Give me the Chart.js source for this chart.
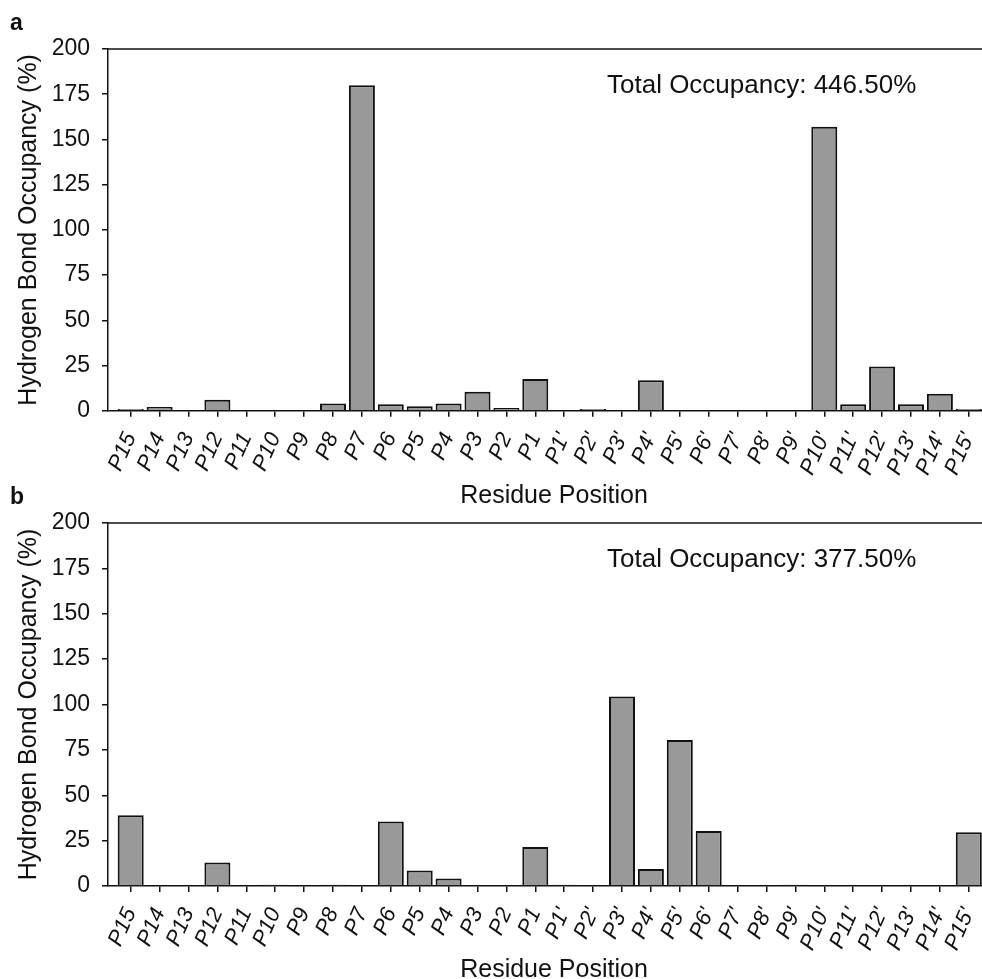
<!DOCTYPE html>
<html>
<head>
<meta charset="utf-8">
<script src="https://cdn.jsdelivr.net/npm/chart.js@4/dist/chart.umd.min.js"></script>
<style>
  html, body { margin: 0; padding: 0; background: #fff; overflow: hidden; width: 982px; height: 979px; position: relative; }
  canvas { display: block; position: absolute; left: 0; }
  #chart-a { top: 0; }
  #chart-b { top: 474px; }
</style>
</head>
<body>
<canvas id="chart-a" width="1000" height="520"></canvas>
<canvas id="chart-b" width="1000" height="520"></canvas>
<script>
// ── Data ─────────────────────────────────────────────────────────────────────

const RESIDUES = [
  'P15', 'P14', 'P13', 'P12', 'P11', 'P10', 'P9', 'P8', 'P7', 'P6', 'P5', 'P4', 'P3', 'P2', 'P1',
  "P1'", "P2'", "P3'", "P4'", "P5'", "P6'", "P7'", "P8'", "P9'", "P10'", "P11'", "P12'", "P13'", "P14'", "P15'",
];

// panel a
const OCC_A = [
  1, 2, 0, 6, 0, 0, 0, 4, 180, 3.5, 2.5, 4, 10.5, 1.5, 17.5,
  0, 1, 0, 16.8, 0, 0, 0, 0, 0, 157, 3.5, 24.4, 3.5, 9.4, 1,
];

// panel b
const OCC_B = [
  39, 0, 0, 13, 0, 0.7, 0, 0.7, 0, 35.5, 8.6, 4.2, 0, 0, 21.5,
  0.7, 0, 104.4, 9.4, 80.5, 30.3, 0, 0, 0.7, 0, 0, 0, 0, 0, 29.6,
];

const TOTAL_A = 'Total Occupancy: 446.50%';
const TOTAL_B = 'Total Occupancy: 377.50%';

const Y_TICKS = [0, 25, 50, 75, 100, 125, 150, 175, 200];

// ── Chart builder ────────────────────────────────────────────────────────────

const FONT = "'Liberation Sans', Arial, Helvetica, sans-serif";

function panel_plugin(letter, total) {
  return {
    id: 'panel_' + letter,
    afterDraw(chart) {
      const { ctx, chartArea } = chart;
      ctx.save();
      // top frame line
      ctx.strokeStyle = '#111';
      ctx.lineWidth = 1.5;
      ctx.beginPath();
      ctx.moveTo(chartArea.left, chartArea.top);
      ctx.lineTo(chartArea.right, chartArea.top);
      ctx.stroke();
      // panel letter
      ctx.fillStyle = '#111';
      ctx.font = 'bold 23px ' + FONT;
      ctx.textBaseline = 'alphabetic';
      ctx.fillText(letter, 10, 30);
      // total occupancy note
      ctx.font = '26px ' + FONT;
      ctx.fillText(total, 607, chartArea.top + 44);
      ctx.restore();
    },
  };
}

function build_chart(canvas_id, values, letter, total, axis_y) {
  const points = values.map((v, i) => ({ x: i + 1, y: v }));
  const canvas = document.getElementById(canvas_id);
  const h = canvas.height;

  return new Chart(canvas.getContext('2d'), {
    type: 'bar',
    data: {
      datasets: [{
        data: points,
        backgroundColor: '#999999',
        borderColor: '#111',
        borderWidth: 2,
        borderSkipped: 'start',
        categoryPercentage: 1,
        barPercentage: 0.9,
      }],
    },
    options: {
      responsive: false,
      animation: false,
      events: [],
      layout: { padding: { top: 49, left: 0, right: 0, bottom: 0 } },
      plugins: { legend: { display: false }, tooltip: { enabled: false } },
      scales: {
        x: {
          type: 'linear',
          offset: false,
          min: 0.2145,
          max: 31.08,
          afterBuildTicks: s => { s.ticks = RESIDUES.map((_, i) => ({ value: i + 1 })); },
          afterFit: s => { s.height = h - axis_y; s.paddingLeft = 0; s.paddingRight = 0; },
          ticks: {
            autoSkip: false,
            minRotation: 66,
            maxRotation: 66,
            padding: 12,
            color: '#111',
            font: { family: FONT, size: 22, style: 'italic' },
            callback: v => RESIDUES[v - 1],
          },
          grid: { offset: false, drawOnChartArea: false, drawTicks: true, tickLength: 6, color: '#111', lineWidth: 1.5 },
          border: { display: true, color: '#111', width: 1.5 },
          title: {
            display: true,
            text: 'Residue Position',
            color: '#111',
            font: { family: FONT, size: 25 },
            padding: { top: 0, bottom: 9 },
          },
        },
        y: {
          min: 0,
          max: 200,
          afterBuildTicks: s => { s.ticks = Y_TICKS.map(v => ({ value: v })); },
          afterFit: s => { s.width = 108; },
          ticks: {
            padding: 12,
            color: '#111',
            font: { family: FONT, size: 23 },
          },
          grid: { drawOnChartArea: false, drawTicks: true, tickLength: 6, color: '#111', lineWidth: 1.5 },
          border: { display: true, color: '#111', width: 1.5 },
          title: {
            display: true,
            text: 'Hydrogen Bond Occupancy (%)',
            color: '#111',
            font: { family: FONT, size: 25 },
            padding: { top: 14, bottom: 0 },
          },
        },
      },
    },
    plugins: [panel_plugin(letter, total)],
  });
}

build_chart('chart-a', OCC_A, 'a', TOTAL_A, 410.7);
build_chart('chart-b', OCC_B, 'b', TOTAL_B, 412);
</script>
</body>
</html>
